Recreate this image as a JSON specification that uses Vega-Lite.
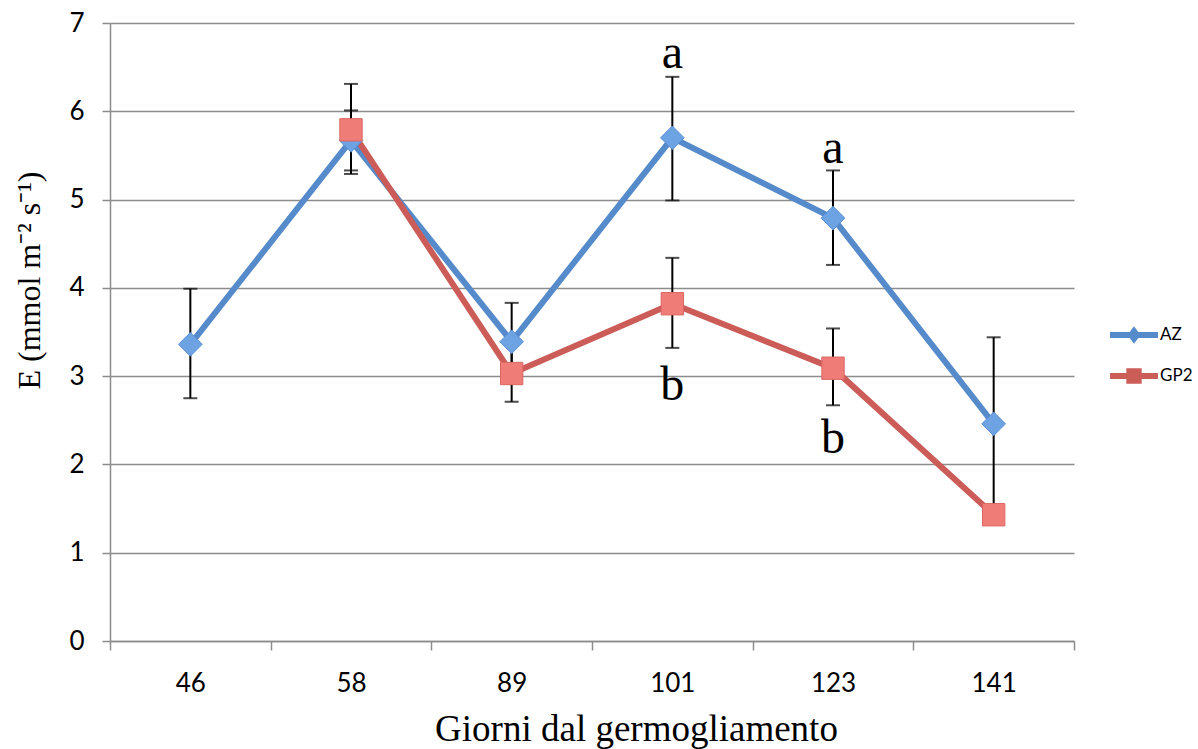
{
  "$schema": "https://vega.github.io/schema/vega-lite/v6.json",
  "width": 964,
  "height": 618,
  "autosize": "none",
  "padding": {"left": 110, "top": 23, "right": 124, "bottom": 108},
  "background": "white",
  "config": {
    "view": {"stroke": null},
    "axisX": {
      "titleFont": "Liberation Serif", "titleFontSize": 37, "titleFontWeight": "normal", "titleColor": "black",
      "titleX": 526, "titleY": 99, "titleAlign": "center", "titleBaseline": "alphabetic",
      "labelFont": "Lato", "labelFontSize": 26, "labelColor": "black", "labelAngle": 0, "labelPadding": 20,
      "tickBand": "extent", "tickSize": 9, "tickWidth": 1.5, "tickColor": "#8c8c8c",
      "domainColor": "#8c8c8c", "domainWidth": 1.5, "grid": false
    },
    "axisY": {
      "titleFont": "Liberation Serif", "titleFontSize": 32, "titleFontWeight": "normal", "titleColor": "black",
      "titleX": -81, "titleY": 257, "titleAngle": -90, "titleAlign": "center", "titleBaseline": "middle",
      "labelFont": "Lato", "labelFontSize": 26, "labelColor": "black", "labelPadding": 18,
      "tickSize": 8, "tickWidth": 1.5, "tickColor": "#8c8c8c",
      "domainColor": "#8c8c8c", "domainWidth": 1.5,
      "grid": true, "gridColor": "#8c8c8c", "gridWidth": 1.5
    }
  },
  "datasets": {
    "main": [
      {"series": "AZ", "day": 46, "E": 3.36},
      {"series": "AZ", "day": 58, "E": 5.67},
      {"series": "AZ", "day": 89, "E": 3.39},
      {"series": "AZ", "day": 101, "E": 5.70},
      {"series": "AZ", "day": 123, "E": 4.79},
      {"series": "AZ", "day": 141, "E": 2.46},
      {"series": "GP2", "day": 58, "E": 5.79},
      {"series": "GP2", "day": 89, "E": 3.03},
      {"series": "GP2", "day": 101, "E": 3.82},
      {"series": "GP2", "day": 123, "E": 3.09},
      {"series": "GP2", "day": 141, "E": 1.43}
    ],
    "err": [
      {"series": "AZ", "day": 46, "lo": 2.75, "hi": 3.99},
      {"series": "AZ", "day": 58, "lo": 5.33, "hi": 6.01},
      {"series": "GP2", "day": 58, "lo": 5.29, "hi": 6.31},
      {"series": "AZ", "day": 89, "lo": 2.95, "hi": 3.83},
      {"series": "GP2", "day": 89, "lo": 2.71, "hi": 3.35},
      {"series": "AZ", "day": 101, "lo": 4.99, "hi": 6.39},
      {"series": "GP2", "day": 101, "lo": 3.32, "hi": 4.34},
      {"series": "AZ", "day": 123, "lo": 4.26, "hi": 5.33},
      {"series": "GP2", "day": 123, "lo": 2.67, "hi": 3.54},
      {"series": "AZ", "day": 141, "lo": 1.48, "hi": 3.44}
    ],
    "letters": [
      {"day": 101, "pos": 6.49, "label": "a"},
      {"day": 101, "pos": 2.73, "label": "b"},
      {"day": 123, "pos": 5.41, "label": "a"},
      {"day": 123, "pos": 2.13, "label": "b"}
    ]
  },
  "layer": [
    {
      "data": {"name": "main"},
      "transform": [{"filter": "datum.series === 'AZ'"}],
      "mark": {"type": "line", "strokeWidth": 6, "color": "#558ACB"},
      "encoding": {
        "x": {
          "field": "day", "type": "ordinal", "title": "Giorni dal germogliamento",
          "scale": {"type": "band", "paddingInner": 0, "paddingOuter": 0}
        },
        "y": {
          "field": "E", "type": "quantitative", "title": "E (mmol m⁻² s⁻¹)",
          "scale": {"domain": [0, 7], "nice": false},
          "axis": {"values": [0, 1, 2, 3, 4, 5, 6, 7], "format": "d"}
        }
      }
    },
    {
      "data": {"name": "main"},
      "transform": [{"filter": "datum.series === 'GP2'"}],
      "mark": {"type": "line", "strokeWidth": 6, "color": "#CC5C58"},
      "encoding": {
        "x": {"field": "day", "type": "ordinal", "title": "Giorni dal germogliamento"},
        "y": {"field": "E", "type": "quantitative", "title": "E (mmol m⁻² s⁻¹)"}
      }
    },
    {
      "data": {"name": "err"},
      "mark": {"type": "errorbar", "color": "black", "thickness": 2, "ticks": {"size": 14, "color": "black", "thickness": 2}, "rule": {"strokeWidth": 2, "color": "black"}},
      "encoding": {
        "x": {"field": "day", "type": "ordinal", "title": "Giorni dal germogliamento"},
        "y": {"field": "lo", "type": "quantitative", "title": "E (mmol m⁻² s⁻¹)"},
        "y2": {"field": "hi"}
      }
    },
    {
      "data": {"name": "main"},
      "transform": [{"filter": "datum.series === 'AZ'"}],
      "mark": {"type": "point", "shape": "diamond", "filled": true, "size": 560, "color": "#6EA3E3", "stroke": "#5A90D6", "strokeWidth": 1, "opacity": 1},
      "encoding": {
        "x": {"field": "day", "type": "ordinal", "title": "Giorni dal germogliamento"},
        "y": {"field": "E", "type": "quantitative", "title": "E (mmol m⁻² s⁻¹)"}
      }
    },
    {
      "data": {"name": "main"},
      "transform": [{"filter": "datum.series === 'GP2'"}],
      "mark": {"type": "point", "shape": "square", "filled": true, "size": 500, "color": "#F07C78", "stroke": "#DA6662", "strokeWidth": 1, "opacity": 1},
      "encoding": {
        "x": {"field": "day", "type": "ordinal", "title": "Giorni dal germogliamento"},
        "y": {"field": "E", "type": "quantitative", "title": "E (mmol m⁻² s⁻¹)"}
      }
    },
    {
      "data": {"name": "letters"},
      "mark": {"type": "text", "font": "Liberation Serif", "fontSize": 48, "color": "black", "baseline": "alphabetic", "align": "center"},
      "encoding": {
        "x": {"field": "day", "type": "ordinal", "title": "Giorni dal germogliamento"},
        "y": {"field": "pos", "type": "quantitative", "title": "E (mmol m⁻² s⁻¹)"},
        "text": {"field": "label"}
      }
    },
    {
      "data": {"name": "main"},
      "transform": [{"filter": "datum.E > 100"}],
      "mark": {"type": "point", "filled": true, "opacity": 1, "size": 2304},
      "encoding": {
        "x": {"field": "day", "type": "ordinal", "title": "Giorni dal germogliamento"},
        "y": {"field": "E", "type": "quantitative", "title": "E (mmol m⁻² s⁻¹)"},
        "fill": {
          "field": "series", "type": "nominal",
          "scale": {"domain": ["AZ", "GP2"], "range": ["#558ACB", "#CC5C58"]},
          "legend": {
            "title": null, "orient": "none", "legendX": 1000, "legendY": 288, "padding": 0,
            "symbolSize": 2304, "symbolStrokeWidth": 0, "symbolOpacity": 1, "rowPadding": 8,
            "labelFont": "Lato", "labelFontSize": 17, "labelColor": "black", "labelOffset": 2
          }
        },
        "shape": {
          "field": "series", "type": "nominal",
          "scale": {"domain": ["AZ", "GP2"], "range": ["M-1,-0.125H1V0.125H-1Z M0,-0.36L0.27,0L0,0.36L-0.27,0Z", "M-1,-0.125H1V0.125H-1Z M-0.32,-0.32H0.32V0.32H-0.32Z"]}
        }
      }
    }
  ]
}
